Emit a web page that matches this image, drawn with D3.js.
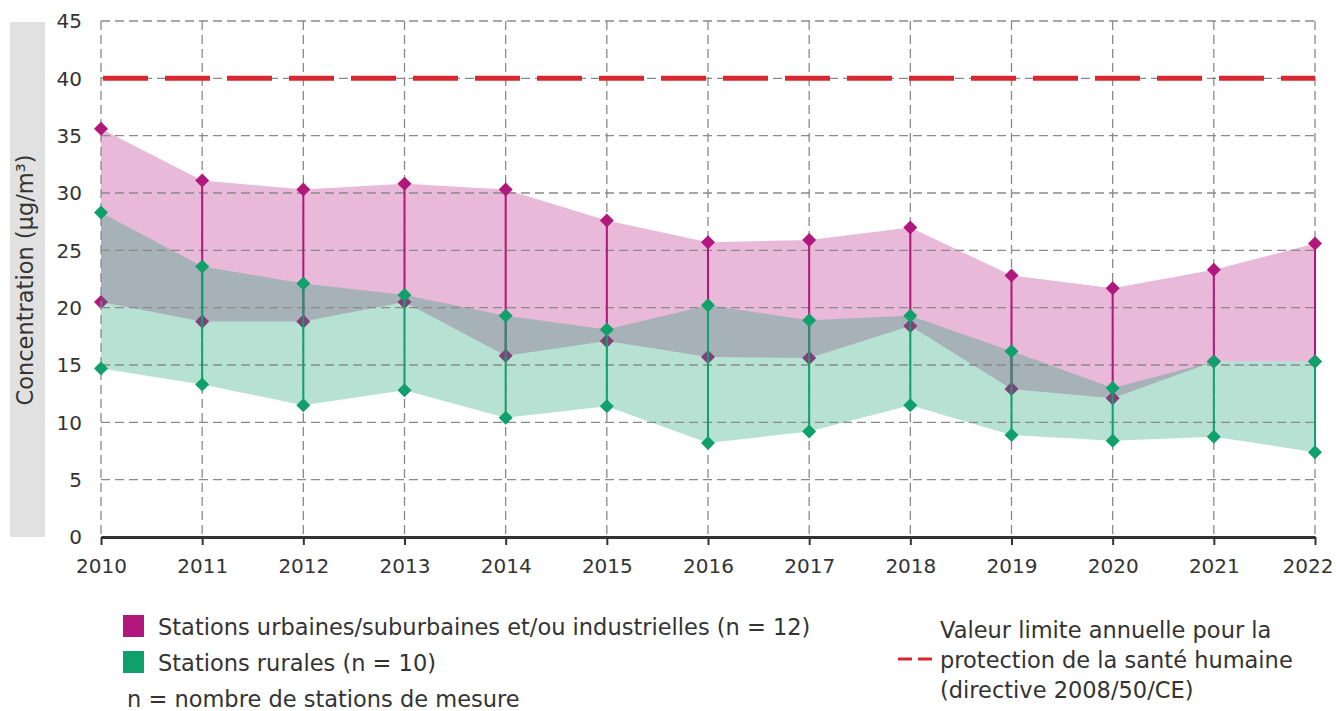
<!DOCTYPE html>
<html>
<head>
<meta charset="utf-8">
<script src="https://cdn.jsdelivr.net/npm/d3@7"></script>
<style>
  body { margin: 0; background: #fff; }
  svg { font-family: "DejaVu Sans", sans-serif; }
</style>
</head>
<body>
<script>
const years = [2010, 2011, 2012, 2013, 2014, 2015, 2016, 2017, 2018, 2019, 2020, 2021, 2022];
const urbanMax = [35.6, 31.1, 30.3, 30.8, 30.3, 27.6, 25.7, 25.9, 27.0, 22.8, 21.7, 23.3, 25.6];
const urbanMin = [20.5, 18.8, 18.8, 20.5, 15.8, 17.1, 15.7, 15.6, 18.4, 12.9, 12.1, 15.3, 15.3];
const ruralMax = [28.3, 23.6, 22.1, 21.1, 19.3, 18.1, 20.2, 18.9, 19.3, 16.2, 13.0, 15.3, 15.3];
const ruralMin = [14.7, 13.3, 11.5, 12.8, 10.4, 11.4, 8.2, 9.2, 11.5, 8.9, 8.4, 8.75, 7.4];
const limitValue = 40;
const yTicks = [0, 5, 10, 15, 20, 25, 30, 35, 40, 45];

const WIDTH = 1336;
const HEIGHT = 711;
const MAGENTA = "#b2177d";
const GREEN = "#0fa06c";
const RED = "#d7282f";
const TEXT = "#333";

const svg = d3.select("body")
    .append("svg")
    .attr("width", WIDTH)
    .attr("height", HEIGHT);

const x = d3.scaleLinear().domain([2010, 2022]).range([101, 1315]);
const y = d3.scaleLinear().domain([0, 45]).range([537, 21]);

const urban = years.map((yr, i) => ({ year: yr, lo: urbanMin[i], hi: urbanMax[i] }));
const rural = years.map((yr, i) => ({ year: yr, lo: ruralMin[i], hi: ruralMax[i] }));

// grey band behind the y title
svg.append("rect")
    .attr("x", 10).attr("y", 22)
    .attr("width", 35).attr("height", 515)
    .attr("fill", "#e1e1e1");

svg.append("text")
    .attr("transform", "translate(33,280) rotate(-90)")
    .attr("text-anchor", "middle")
    .attr("font-size", 22.5)
    .attr("fill", TEXT)
    .text("Concentration (µg/m³)");

const area = d3.area()
    .x(d => x(d.year))
    .y0(d => y(d.lo))
    .y1(d => y(d.hi));

const diamond = "M0,-7L7,0L0,7L-7,0Z";

const drawArea = (data, color) => svg.append("path")
    .datum(data)
    .attr("d", area)
    .attr("fill", color)
    .attr("fill-opacity", 0.3);

const drawStems = (data, color) => svg.selectAll(null)
    .data(data.filter((d, i) => i > 0))
    .enter()
    .append("line")
    .attr("x1", d => x(d.year))
    .attr("x2", d => x(d.year))
    .attr("y1", d => y(d.hi))
    .attr("y2", d => y(d.lo))
    .attr("stroke", color)
    .attr("stroke-width", 2);

const drawMarkers = (data, key, color) => svg.selectAll(null)
    .data(data)
    .enter()
    .append("path")
    .attr("d", diamond)
    .attr("transform", d => `translate(${x(d.year)},${y(d[key])})`)
    .attr("fill", color);

drawArea(urban, MAGENTA);
// urban minima sit under the rural band, so they look muted there
drawMarkers(urban, "lo", MAGENTA);
drawArea(rural, GREEN);

// grid
const grid = svg.append("g")
    .attr("stroke", "#8a8a8a")
    .attr("stroke-width", 1.3)
    .attr("stroke-dasharray", "9,5");

grid.selectAll(".h")
    .data(yTicks.filter(t => t > 0))
    .enter()
    .append("line")
    .attr("x1", x(2010)).attr("x2", x(2022))
    .attr("y1", d => y(d)).attr("y2", d => y(d));

grid.selectAll(".v")
    .data(years)
    .enter()
    .append("line")
    .attr("x1", d => x(d)).attr("x2", d => x(d))
    .attr("y1", y(45)).attr("y2", y(0));

drawStems(urban, MAGENTA);
drawStems(rural, GREEN);
drawMarkers(urban, "hi", MAGENTA);
drawMarkers(rural, "hi", GREEN);
drawMarkers(rural, "lo", GREEN);

// limit value line
svg.append("line")
    .attr("x1", x(2010)).attr("x2", x(2022))
    .attr("y1", y(limitValue)).attr("y2", y(limitValue))
    .attr("stroke", RED)
    .attr("stroke-width", 5)
    .attr("stroke-dasharray", "45,17")
    .attr("stroke-dashoffset", -2);

// y tick labels
svg.selectAll(".ylab")
    .data(yTicks)
    .enter()
    .append("text")
    .attr("x", 82)
    .attr("y", d => y(d))
    .attr("dy", "0.36em")
    .attr("text-anchor", "end")
    .attr("font-size", 20)
    .attr("fill", TEXT)
    .text(d => d);

// x axis
const xAxis = svg.append("g")
    .attr("transform", `translate(0,${y(0)})`)
    .call(d3.axisBottom(x)
        .tickValues(years)
        .tickFormat(d3.format("d"))
        .tickSize(8)
        .tickSizeOuter(0)
        .tickPadding(14));

xAxis.select(".domain").attr("stroke", "#333").attr("stroke-width", 3);
xAxis.selectAll(".tick line").attr("stroke", "#333").attr("stroke-width", 2);
xAxis.selectAll(".tick text")
    .attr("font-size", 20)
    .attr("font-family", "DejaVu Sans, sans-serif")
    .attr("fill", TEXT);
// last label pulled inside the frame
xAxis.selectAll(".tick text")
    .filter(d => d === 2022)
    .attr("text-anchor", "end")
    .attr("x", 18);

// legend
const legend = svg.append("g").attr("font-size", 22.5).attr("fill", TEXT);

const legendItems = [
    { color: MAGENTA, label: "Stations urbaines/suburbaines et/ou industrielles (n = 12)" },
    { color: GREEN, label: "Stations rurales (n = 10)" }
];

legendItems.forEach((item, i) => {
    legend.append("rect")
        .attr("x", 123).attr("y", 615 + i * 36)
        .attr("width", 21).attr("height", 22)
        .attr("fill", item.color);
    legend.append("text")
        .attr("x", 158).attr("y", 635 + i * 36)
        .text(item.label);
});

legend.append("text")
    .attr("x", 127).attr("y", 707)
    .text("n = nombre de stations de mesure");

legend.append("line")
    .attr("x1", 898).attr("x2", 934)
    .attr("y1", 659).attr("y2", 659)
    .attr("stroke", RED)
    .attr("stroke-width", 3)
    .attr("stroke-dasharray", "14,6");

["Valeur limite annuelle pour la", "protection de la santé humaine", "(directive 2008/50/CE)"]
    .forEach((line, i) => {
        legend.append("text")
            .attr("x", 940).attr("y", 638 + i * 30)
            .text(line);
    });
</script>
</body>
</html>
